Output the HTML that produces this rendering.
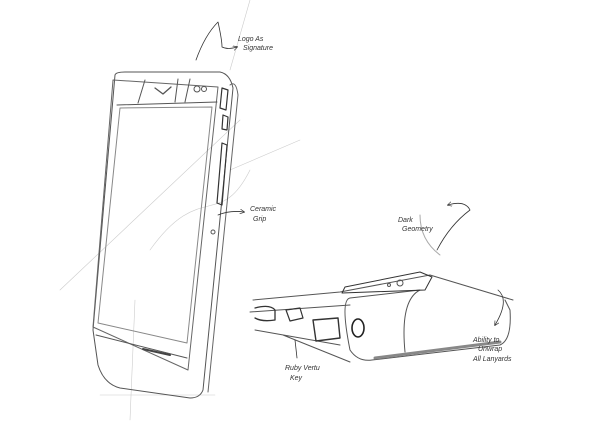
<!DOCTYPE html>
<html><head><meta charset="utf-8"><style>
html,body{margin:0;padding:0;background:#fff;width:600px;height:424px;overflow:hidden}
text{font-family:"Liberation Sans",sans-serif;font-style:italic;fill:#333;font-size:7px}
</style></head><body>
<svg width="600" height="424" viewBox="0 0 600 424" xmlns="http://www.w3.org/2000/svg" fill="none" stroke-linecap="round" stroke-linejoin="round">
<defs><marker id="a" markerWidth="6" markerHeight="6" refX="5" refY="3" orient="auto"><path d="M0,0 L6,3 L0,6" stroke="#333" stroke-width="0.8" fill="none"/></marker></defs>
<g stroke="#ccc" stroke-width="0.6">
<path d="M60,290 L240,120"/><path d="M150,250 C200,180 220,230 250,170"/><path d="M130,420 L135,300"/><path d="M100,395 L215,395"/>
<path d="M250,0 L230,70"/><path d="M230,170 L300,140"/>
</g>
<g stroke="#555" stroke-width="1">
<path d="M115,75 Q116,72 125,72 L220,72 Q230,74 233,88 L203,390 Q200,398 190,398 L120,388 Q104,384 98,365 L93,330 Z"/>
<path d="M113,80 L93,327 L188,370 L218,87 Z" stroke="#666"/>
<path d="M117,105 L217,102" />
<path d="M120,108 L212,107 L187,343 L98,323 Z" stroke="#888"/>
<path d="M96,335 L187,358"/>
<path d="M145,80 L138,103 M178,79 L175,102 M190,79 L185,102"/>
<path d="M155,88 L163,94 L171,87" stroke-width="1.3"/>
<circle cx="197" cy="89" r="3"/><circle cx="204" cy="89" r="2.5"/>
<path d="M222,88 L228,90 L226,110 L220,108 Z M223,115 L228,117 L227,130 L222,129 Z M222,143 L227,145 L222,205 L217,203 Z" stroke="#333" stroke-width="1.2"/>
<circle cx="213" cy="232" r="2"/>
<path d="M143,349 L170,355" stroke="#444" stroke-width="2"/>
<path d="M230,85 Q236,80 238,95 L208,392" stroke="#666"/>
</g>
<g stroke="#555" stroke-width="1">
<path d="M253,300 L340,292 L430,275 L513,300"/>
<path d="M250,312 L350,305 M255,330 L340,345 M283,335 L350,362"/>
<path d="M350,298 Q340,300 350,350 Q358,362 372,360 L500,345 Q512,340 510,310 L505,300"/>
<path d="M350,298 L420,290 Q400,300 405,352"/>
<path d="M342,293 L345,287 L420,272 L432,277 L425,290 Z" stroke="#333"/>
<circle cx="400" cy="283" r="3"/><circle cx="389" cy="285" r="1.5"/>
<path d="M255,308 Q270,304 275,310 L275,320 Q262,322 255,318" stroke="#333" stroke-width="1.3"/>
<path d="M286,310 L300,308 L303,318 L290,321 Z" stroke="#333" stroke-width="1.2"/>
<path d="M313,320 L338,318 L340,338 L316,341 Z" stroke="#333" stroke-width="1.4"/>
<ellipse cx="358" cy="328" rx="6" ry="9" stroke="#222" stroke-width="1.6"/>
<path d="M375,358 L500,342" stroke="#888" stroke-width="3"/>
<path d="M420,215 Q420,240 440,255" stroke="#aaa"/>
</g>
<g stroke="#333" stroke-width="0.8">
<path d="M196,60 Q205,35 218,22 Q222,40 222,47 Q228,50 237,47" marker-end="url(#a)"/>
<path d="M218,215 Q230,210 244,212" marker-end="url(#a)"/>
<path d="M437,250 Q450,225 470,210 Q465,200 448,205" marker-end="url(#a)"/>
<path d="M295,340 L297,358"/>
<path d="M498,290 Q510,300 495,325" marker-end="url(#a)"/>
</g>
<text x="238" y="41">Logo As</text><text x="243" y="50">Signature</text>
<text x="250" y="211">Ceramic</text><text x="253" y="221">Grip</text>
<text x="398" y="222">Dark</text><text x="402" y="231">Geometry</text>
<text x="285" y="370">Ruby Vertu</text><text x="290" y="380">Key</text>
<text x="473" y="342">Ability to</text><text x="478" y="351">Unwrap</text><text x="473" y="361">All Lanyards</text>
</svg>
</body></html>
